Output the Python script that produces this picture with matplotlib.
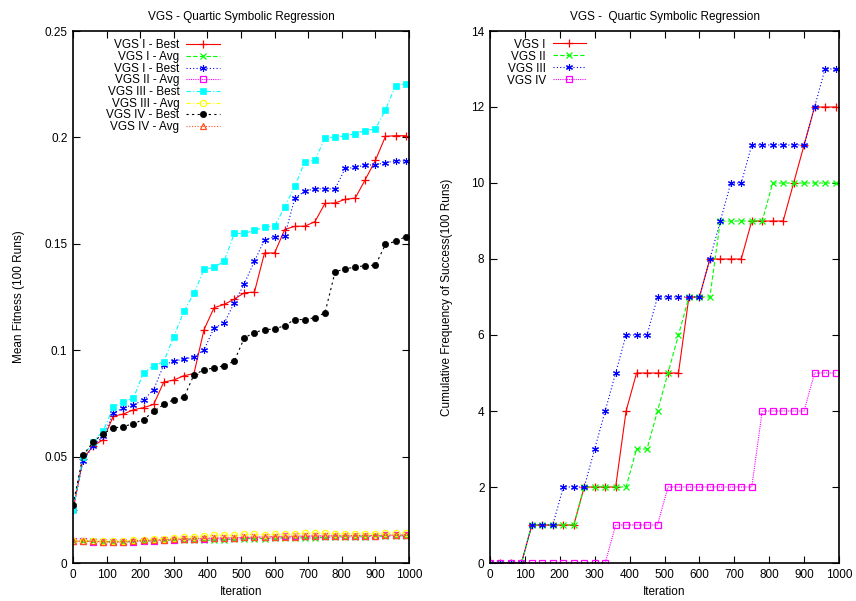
import matplotlib
matplotlib.use("Agg")
import matplotlib.pyplot as plt

plt.rcParams['font.family'] = ['Liberation Sans', 'DejaVu Sans']

iterations = list(range(0, 1000, 30))

# Left chart: mean fitness
vgs1_best = [0.025, 0.049, 0.055, 0.058, 0.069, 0.070, 0.072, 0.073, 0.0745, 0.085, 0.086, 0.088,
             0.089, 0.1097, 0.120, 0.1215, 0.124, 0.127, 0.1273, 0.1457, 0.1457, 0.1567, 0.1582,
             0.1583, 0.1604, 0.169, 0.1692, 0.1709, 0.1715, 0.1802, 0.1892, 0.2005, 0.2008, 0.2008]
vgs1_avg = [0.0104, 0.0103, 0.0102, 0.0100, 0.0099, 0.0099, 0.0101, 0.0104, 0.0103, 0.0106, 0.0108,
            0.0110, 0.0108, 0.0107, 0.0108, 0.0110, 0.0112, 0.0114, 0.0115, 0.0115, 0.0117, 0.0118,
            0.0118, 0.0118, 0.0117, 0.0121, 0.0122, 0.0123, 0.0122, 0.0124, 0.0125, 0.0126, 0.0127, 0.0128]
vgs3_best_b = [0.025, 0.048, 0.055, 0.0596, 0.0703, 0.073, 0.0743, 0.0766, 0.0815, 0.093, 0.0949,
               0.0958, 0.0969, 0.1002, 0.1105, 0.1127, 0.1223, 0.1313, 0.1418, 0.1519, 0.1533, 0.1536,
               0.1714, 0.1748, 0.1758, 0.1758, 0.1758, 0.1854, 0.1859, 0.187, 0.1871, 0.1882, 0.1889, 0.1889]
vgs2_avg = [0.0102, 0.0102, 0.0101, 0.0099, 0.0098, 0.0098, 0.0101, 0.0104, 0.0104, 0.0108, 0.0110,
            0.0112, 0.0113, 0.0115, 0.0116, 0.0117, 0.0118, 0.0120, 0.0121, 0.0123, 0.0124, 0.0125,
            0.0126, 0.0127, 0.0127, 0.0128, 0.0128, 0.0128, 0.0128, 0.0129, 0.0129, 0.0130, 0.0131, 0.0132]
vgs3_best = [0.025, 0.050, 0.057, 0.062, 0.0733, 0.0757, 0.0776, 0.0894, 0.0927, 0.0946, 0.1064,
             0.1182, 0.1267, 0.138, 0.139, 0.1418, 0.1549, 0.1549, 0.1563, 0.1578, 0.1583, 0.1673,
             0.177, 0.1885, 0.1893, 0.1997, 0.2002, 0.2007, 0.2018, 0.2032, 0.204, 0.2129, 0.2243, 0.2252]
vgs3_avg = [0.0104, 0.0104, 0.0103, 0.0103, 0.0102, 0.0103, 0.0106, 0.0110, 0.0112, 0.0114, 0.0117,
            0.0121, 0.0124, 0.0127, 0.0130, 0.0131, 0.0130, 0.0134, 0.0134, 0.0133, 0.0135, 0.0135,
            0.0137, 0.0140, 0.0141, 0.0140, 0.0138, 0.0138, 0.0137, 0.0137, 0.0138, 0.0139, 0.0139, 0.0140]
vgs4_best = [0.0274, 0.0507, 0.0568, 0.0608, 0.0634, 0.0641, 0.0655, 0.0674, 0.0712, 0.0745, 0.0768,
             0.0778, 0.0884, 0.0908, 0.0917, 0.0927, 0.0949, 0.1058, 0.1083, 0.1097, 0.1099, 0.1116,
             0.1144, 0.1144, 0.1153, 0.1176, 0.1368, 0.1383, 0.139, 0.1398, 0.1399, 0.1497, 0.1512, 0.1533]
vgs4_avg = [0.0103, 0.0103, 0.0102, 0.0101, 0.0100, 0.0101, 0.0104, 0.0107, 0.0108, 0.0110, 0.0112,
            0.0114, 0.0115, 0.0116, 0.0117, 0.0118, 0.0119, 0.0120, 0.0121, 0.0122, 0.0123, 0.0124,
            0.0124, 0.0125, 0.0126, 0.0127, 0.0127, 0.0128, 0.0128, 0.0129, 0.0129, 0.0130, 0.0131, 0.0131]

# Right chart: cumulative frequency of success
succ_vgs1 = [0, 0, 0, 0, 1, 1, 1, 1, 1, 2, 2, 2, 2, 4, 5, 5, 5, 5, 5, 7, 7, 8, 8, 8, 8, 9, 9, 9, 9,
             10, 11, 12, 12, 12]
succ_vgs2 = [0, 0, 0, 0, 1, 1, 1, 1, 1, 2, 2, 2, 2, 2, 3, 3, 4, 5, 6, 7, 7, 7, 9, 9, 9, 9, 9, 10, 10,
             10, 10, 10, 10, 10]
succ_vgs3 = [0, 0, 0, 0, 1, 1, 1, 2, 2, 2, 3, 4, 5, 6, 6, 6, 7, 7, 7, 7, 7, 8, 9, 10, 10, 11, 11, 11,
             11, 11, 11, 12, 13, 13]
succ_vgs4 = [0, 0, 0, 0, 0, 0, 0, 0, 0, 0, 0, 0, 1, 1, 1, 1, 1, 2, 2, 2, 2, 2, 2, 2, 2, 2, 4, 4, 4,
             4, 4, 5, 5, 5]

left_labels = ["VGS I - Best", "VGS I - Avg", "VGS I - Best", "VGS II - Avg",
               "VGS III - Best", "VGS III - Avg", "VGS IV - Best", "VGS IV - Avg"]
right_labels = ["VGS I", "VGS II", "VGS III", "VGS IV"]

W, H = 856, 601
fig = plt.figure(figsize=(W / 100, H / 100), dpi=100)
FS = 8.5


def px_axes(x0, y0, x1, y1):
    return fig.add_axes([x0 / W, 1 - y1 / H, (x1 - x0) / W, (y1 - y0) / H])


axL = px_axes(73, 31, 409, 563)
axR = px_axes(490, 31, 839, 563)

lw = 0.8
styles_left = [
    dict(color='#ff0000', ls='-', marker='+', ms=6, mew=0.9, mfc='none'),
    dict(color='#00ff00', ls=(0, (4, 2)), marker='x', ms=5, mew=0.9, mfc='none'),
    dict(color='#0000ff', ls=(0, (1, 2)), marker=(6, 2, 0), ms=5, mew=0.8, mfc='none'),
    dict(color='#ff00ff', ls=(0, (1, 1)), marker='s', ms=4.5, mew=0.9, mfc='none'),
    dict(color='#00ffff', ls=(0, (4, 2, 1, 2)), marker='s', ms=4.5, mew=0.5),
    dict(color='#ffff00', ls=(0, (4, 2, 1, 2)), marker='o', ms=4.5, mew=0.9, mfc='none'),
    dict(color='#000000', ls=(0, (2, 3)), marker='o', ms=4.5, mew=0.5),
    dict(color='#ff5020', ls=(0, (1, 1.5)), marker='^', ms=4.5, mew=0.9, mfc='none'),
]
series_left = [vgs1_best, vgs1_avg, vgs3_best_b, vgs2_avg, vgs3_best, vgs3_avg, vgs4_best, vgs4_avg]
for ys, st, lab in zip(series_left, styles_left, left_labels):
    axL.plot(iterations, ys, lw=lw, label=lab, **st)

series_right = [succ_vgs1, succ_vgs2, succ_vgs3, succ_vgs4]
for ys, st, lab in zip(series_right, styles_left[:4], right_labels):
    axR.plot(iterations, ys, lw=lw, label=lab, **st)

axL.set_xlim(0, 1000)
axL.set_ylim(0, 0.25)
axL.set_yticks([0, 0.05, 0.1, 0.15, 0.2, 0.25])
axL.set_yticklabels(["0", "0.05", "0.1", "0.15", "0.2", "0.25"])
axR.set_xlim(0, 1000)
axR.set_ylim(0, 14)
axR.set_yticks(range(0, 15, 2))

for ax in (axL, axR):
    ax.set_xticks(range(0, 1001, 100))
    ax.tick_params(direction='in', length=5, width=0.8, top=True, right=True,
                   labelsize=FS, pad=4)
    for sp in ax.spines.values():
        sp.set_linewidth(1.2)
    ax.set_xlabel("Iteration", fontsize=FS, labelpad=4)

axL.set_title("VGS - Quartic Symbolic Regression", fontsize=FS, pad=8)
axR.set_title("VGS -  Quartic Symbolic Regression", fontsize=FS, pad=8)
axL.set_ylabel("Mean Fitness (100 Runs)", fontsize=FS, labelpad=14)
axR.set_ylabel("Cumulative Frequency of Success(100 Runs)", fontsize=FS, labelpad=13)

legkw = dict(frameon=False, markerfirst=False, fontsize=FS, handlelength=2.8,
             handletextpad=0.6, borderpad=0, borderaxespad=0,
             loc='upper right', bbox_transform=fig.transFigure)
axL.legend(bbox_to_anchor=(219.5 / W, 1 - 39.5 / H), labelspacing=-0.03, **legkw)
axR.legend(bbox_to_anchor=(586 / W, 1 - 38.5 / H), labelspacing=0.0, **legkw)

fig.savefig("out.png", dpi=100)
